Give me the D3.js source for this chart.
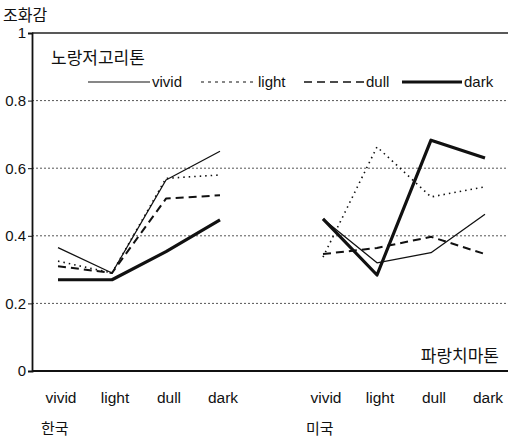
<!DOCTYPE html>
<html>
<head>
<meta charset="utf-8">
<script src="https://cdn.jsdelivr.net/npm/d3@7"></script>
<style>
  body { margin: 0; background: #fff; }
  text { font-family: "Liberation Sans", Arial, sans-serif; fill: #111; }
  .kr { font-family: "Noto Sans CJK KR", sans-serif; }
</style>
</head>
<body>
<div id="chart"></div>
<script>
const countries = ["한국", "미국"];
const tones = ["vivid", "light", "dull", "dark"];
const yTicks = [0, 0.2, 0.4, 0.6, 0.8, 1];

// one value per tone on the x axis, per country
const vividKR = [0.365, 0.29, 0.565, 0.65];
const lightKR = [0.325, 0.29, 0.57, 0.58];
const dullKR  = [0.31, 0.29, 0.51, 0.52];
const darkKR  = [0.27, 0.27, 0.353, 0.447];

const vividUS = [0.45, 0.32, 0.35, 0.464];
const lightUS = [0.337, 0.663, 0.515, 0.545];
const dullUS  = [0.346, 0.364, 0.397, 0.346];
const darkUS  = [0.45, 0.284, 0.683, 0.63];

const series = [
  { name: "vivid", kr: vividKR, us: vividUS, width: 1.3, dash: null },
  { name: "light", kr: lightKR, us: lightUS, width: 1.6, dash: "1.5,4" },
  { name: "dull",  kr: dullKR,  us: dullUS,  width: 2,   dash: "8,5" },
  { name: "dark",  kr: darkKR,  us: darkUS,  width: 3.2, dash: null }
];

const W = 508, H = 439;
const mLeft = 32, mRight = 508, mTop = 33, mBottom = 371;

const svg = d3.select("#chart").append("svg").attr("width", W).attr("height", H);

const y = d3.scaleLinear().domain([0, 1]).range([mBottom, mTop]);
const x0 = d3.scalePoint().domain(countries).range([58, 323]);
const x1 = d3.scalePoint().domain(tones).range([0, 162]);

// gridlines
svg.append("g").selectAll("line")
  .data(yTicks.filter(d => d > 0 && d < 1))
  .enter().append("line")
  .attr("x1", mLeft).attr("x2", mRight)
  .attr("y1", d => y(d)).attr("y2", d => y(d))
  .attr("stroke", "#555").attr("stroke-width", 1)
  .attr("stroke-dasharray", "2,2");

// frame top & bottom
svg.append("line").attr("x1", mLeft).attr("x2", mRight).attr("y1", y(1)).attr("y2", y(1))
  .attr("stroke", "#222").attr("stroke-width", 1.5);
svg.append("line").attr("x1", mLeft).attr("x2", mRight).attr("y1", y(0)).attr("y2", y(0))
  .attr("stroke", "#111").attr("stroke-width", 1.8);

// y axis
const yAxis = d3.axisLeft(y).tickValues(yTicks).tickSize(4)
  .tickFormat(d => d === 0 ? "0" : d === 1 ? "1" : d3.format(".1f")(d));
const ga = svg.append("g").attr("transform", `translate(${mLeft},0)`).call(yAxis);
ga.select(".domain").attr("stroke", "#111").attr("stroke-width", 1.8);
ga.selectAll(".tick line").attr("stroke", "#111");
ga.selectAll(".tick text").attr("font-size", 15).attr("x", -6)
  .style("font-family", "Liberation Sans, Arial, sans-serif").attr("fill", "#111");

svg.append("text").attr("class", "kr").attr("x", 3).attr("y", 21)
  .attr("font-size", 16).text("조화감");

// lines
const line = d3.line().x(d => d[0]).y(d => y(d[1]));
countries.forEach((c, ci) => {
  series.forEach(s => {
    const vals = ci === 0 ? s.kr : s.us;
    const pts = vals.map((v, i) => [x0(c) + x1(tones[i]), v]);
    svg.append("path").attr("d", line(pts))
      .attr("fill", "none").attr("stroke", "#111")
      .attr("stroke-width", s.width)
      .attr("stroke-dasharray", s.dash)
      .attr("stroke-linejoin", "round");
  });
  // category labels
  svg.append("g").selectAll("text").data(tones).enter().append("text")
    .attr("x", d => x0(c) + x1(d) + 3)
    .attr("y", 403)
    .attr("text-anchor", "middle")
    .attr("font-size", 15.5)
    .text(d => d);
  svg.append("text").attr("class", "kr")
    .attr("x", x0(c) - 17).attr("y", 434)
    .attr("font-size", 15).text(c);
});

// legend
svg.append("text").attr("class", "kr").attr("x", 51).attr("y", 64)
  .attr("font-size", 17).text("노랑저고리톤");
const legendX = [88, 201, 304, 402];
const legendLen = [62, 55, 60, 60];
series.forEach((s, i) => {
  const lx = legendX[i];
  svg.append("line").attr("x1", lx).attr("x2", lx + legendLen[i])
    .attr("y1", 82).attr("y2", 82)
    .attr("stroke", "#111")
    .attr("stroke-width", i === 3 ? 3.2 : (i === 2 ? 1.5 : 1.2))
    .attr("stroke-dasharray", i === 1 ? "3,4" : (i === 2 ? "8,5" : null));
  svg.append("text").attr("x", lx + legendLen[i] + 2).attr("y", 87)
    .attr("font-size", 15).text(s.name);
});

svg.append("text").attr("class", "kr").attr("x", 499).attr("y", 362)
  .attr("text-anchor", "end").attr("font-size", 17).text("파랑치마톤");
</script>
</body>
</html>
